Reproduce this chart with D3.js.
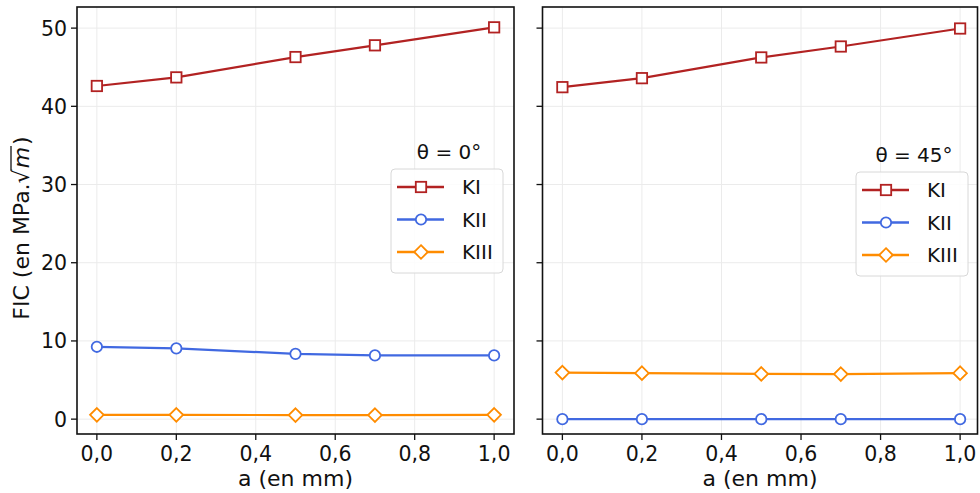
<!DOCTYPE html>
<html><head><meta charset="utf-8">
<script src="https://cdn.jsdelivr.net/npm/d3@7"></script>
<style>body{margin:0;background:#fff}svg{display:block;font-family:"DejaVu Sans",sans-serif}</style>
</head><body><svg id="c" width="980" height="493"></svg>
<script>
const aValues = [0.0, 0.2, 0.5, 0.7, 1.0];
const xTicks = [0.0, 0.2, 0.4, 0.6, 0.8, 1.0];
const yTicks = [0, 10, 20, 30, 40, 50];
const seriesNames = ["KI", "KII", "KIII"];
const panelTitles = ["θ = 0°", "θ = 45°"];
const KI_0 = [42.6, 43.7, 46.3, 47.8, 50.1];
const KII_0 = [9.25, 9.05, 8.35, 8.15, 8.15];
const KIII_0 = [0.55, 0.55, 0.52, 0.52, 0.55];
const KI_45 = [42.45, 43.6, 46.25, 47.65, 49.95];
const KII_45 = [0.0, 0.0, 0.0, 0.0, 0.0];
const KIII_45 = [5.95, 5.88, 5.78, 5.76, 5.88];

const colors = {KI:"#b22222", KII:"#4169e1", KIII:"#ff8c00"};
const markers = {KI:"square", KII:"circle", KIII:"diamond"};
const panels = [
  {title: panelTitles[0], data:{KI:KI_0, KII:KII_0, KIII:KIII_0}, x0:77, x1:514, frameR:514, labels:true, legX:391, legY:169},
  {title: panelTitles[1], data:{KI:KI_45, KII:KII_45, KIII:KIII_45}, x0:542.5, x1:980, frameR:977.5, labels:false, legX:856, legY:172}
];
const svg = d3.select("#c");
const y = d3.scaleLinear().domain([-1.9, 52.7]).range([434, 7]);
const fmt = d => d3.format(".1f")(d).replace(".", ",");
const TICK_FS = 20.5, LABEL_FS = 22, LEG_FS = 20;

function marker(g, type, cx, cy, color){
  let m;
  if(type==="square") m = g.append("rect").attr("x",cx-5.2).attr("y",cy-5.2).attr("width",10.4).attr("height",10.4);
  else if(type==="circle") m = g.append("circle").attr("cx",cx).attr("cy",cy).attr("r",5.2);
  else m = g.append("path").attr("d",`M${cx},${cy-6.8}L${cx+6.8},${cy}L${cx},${cy+6.8}L${cx-6.8},${cy}Z`);
  m.attr("fill","#fff").attr("stroke",color).attr("stroke-width",1.8);
}

panels.forEach((p,pi)=>{
  const x = d3.scaleLinear().domain([-0.05,1.05]).range([p.x0,p.x1]);
  const g = svg.append("g");
  const clipId = "clip"+pi;
  svg.append("clipPath").attr("id",clipId).append("rect").attr("x",p.x0).attr("y",7).attr("width",p.frameR-p.x0).attr("height",427);
  const inner = g.append("g").attr("clip-path",`url(#${clipId})`);
  inner.selectAll(".gx").data(xTicks).join("line").attr("x1",d=>x(d)).attr("x2",d=>x(d)).attr("y1",7).attr("y2",434).attr("stroke","#ebebeb").attr("stroke-width",1);
  inner.selectAll(".gy").data(yTicks).join("line").attr("x1",p.x0).attr("x2",p.frameR).attr("y1",d=>y(d)).attr("y2",d=>y(d)).attr("stroke","#ebebeb").attr("stroke-width",1);
  seriesNames.forEach(s=>{
    const line = d3.line().x((d,i)=>x(aValues[i])).y(d=>y(d));
    inner.append("path").attr("d",line(p.data[s])).attr("fill","none").attr("stroke",colors[s]).attr("stroke-width",2.2);
  });
  seriesNames.forEach(s=>{
    const mg = inner.append("g");
    p.data[s].forEach((v,i)=>marker(mg, markers[s], x(aValues[i]), y(v), colors[s]));
  });
  g.append("rect").attr("x",p.x0).attr("y",7).attr("width",p.frameR-p.x0).attr("height",427).attr("fill","none").attr("stroke","#111").attr("stroke-width",1.6);
  xTicks.forEach(t=>{
    g.append("line").attr("x1",x(t)).attr("x2",x(t)).attr("y1",434).attr("y2",440).attr("stroke","#111").attr("stroke-width",1.3);
    g.append("text").attr("x",x(t)).attr("y",461).attr("text-anchor","middle").attr("font-size",TICK_FS).attr("fill","#111").text(fmt(t));
  });
  g.append("text").attr("x",(p.x0+p.frameR)/2).attr("y",486).attr("text-anchor","middle").attr("font-size",LABEL_FS).attr("fill","#111").text("a (en mm)");
  yTicks.forEach(t=>{
    g.append("line").attr("x1",p.x0-6).attr("x2",p.x0).attr("y1",y(t)).attr("y2",y(t)).attr("stroke","#111").attr("stroke-width",1.3);
    if(p.labels) g.append("text").attr("x",p.x0-10).attr("y",y(t)+7.5).attr("text-anchor","end").attr("font-size",TICK_FS).attr("fill","#111").text(t);
  });
  const lw = 112, lh = 104;
  g.append("text").attr("x",p.legX+lw/2+2).attr("y",p.legY-10).attr("text-anchor","middle").attr("font-size",LEG_FS).attr("fill","#111").text(p.title);
  g.append("rect").attr("x",p.legX).attr("y",p.legY).attr("width",lw).attr("height",lh).attr("rx",4).attr("fill","rgba(255,255,255,0.85)").attr("stroke","#d8d8d8").attr("stroke-width",1);
  seriesNames.forEach((s,i)=>{
    const cy = p.legY + 18 + i*32.5;
    const lg = g.append("g");
    lg.append("line").attr("x1",p.legX+6).attr("x2",p.legX+53).attr("y1",cy).attr("y2",cy).attr("stroke",colors[s]).attr("stroke-width",2.4);
    marker(lg, markers[s], p.legX+30, cy, colors[s]);
    lg.append("text").attr("x",p.legX+71).attr("y",cy+7).attr("font-size",LEG_FS).attr("fill","#111").text(s);
  });
});
const yl = svg.append("g").attr("transform","translate(29,228) rotate(-90)");
const t = yl.append("text").attr("text-anchor","middle").attr("font-size",LABEL_FS).attr("fill","#111");
t.append("tspan").text("FIC (en MPa.√");
t.append("tspan").attr("font-style","italic").attr("dx",1).text("m");
t.append("tspan").attr("dx",2).text(")");
const full = "FIC (en MPa.√m)";
const iR = full.indexOf("√"), iM = full.indexOf("m", iR);
const node = t.node();
const er = node.getExtentOfChar(iR), em = node.getExtentOfChar(iM);
const topY = er.y + 2;
yl.append("line").attr("x1",er.x+er.width-1.5).attr("x2",em.x+em.width+1).attr("y1",topY).attr("y2",topY).attr("stroke","#111").attr("stroke-width",1.3);
</script></body></html>
